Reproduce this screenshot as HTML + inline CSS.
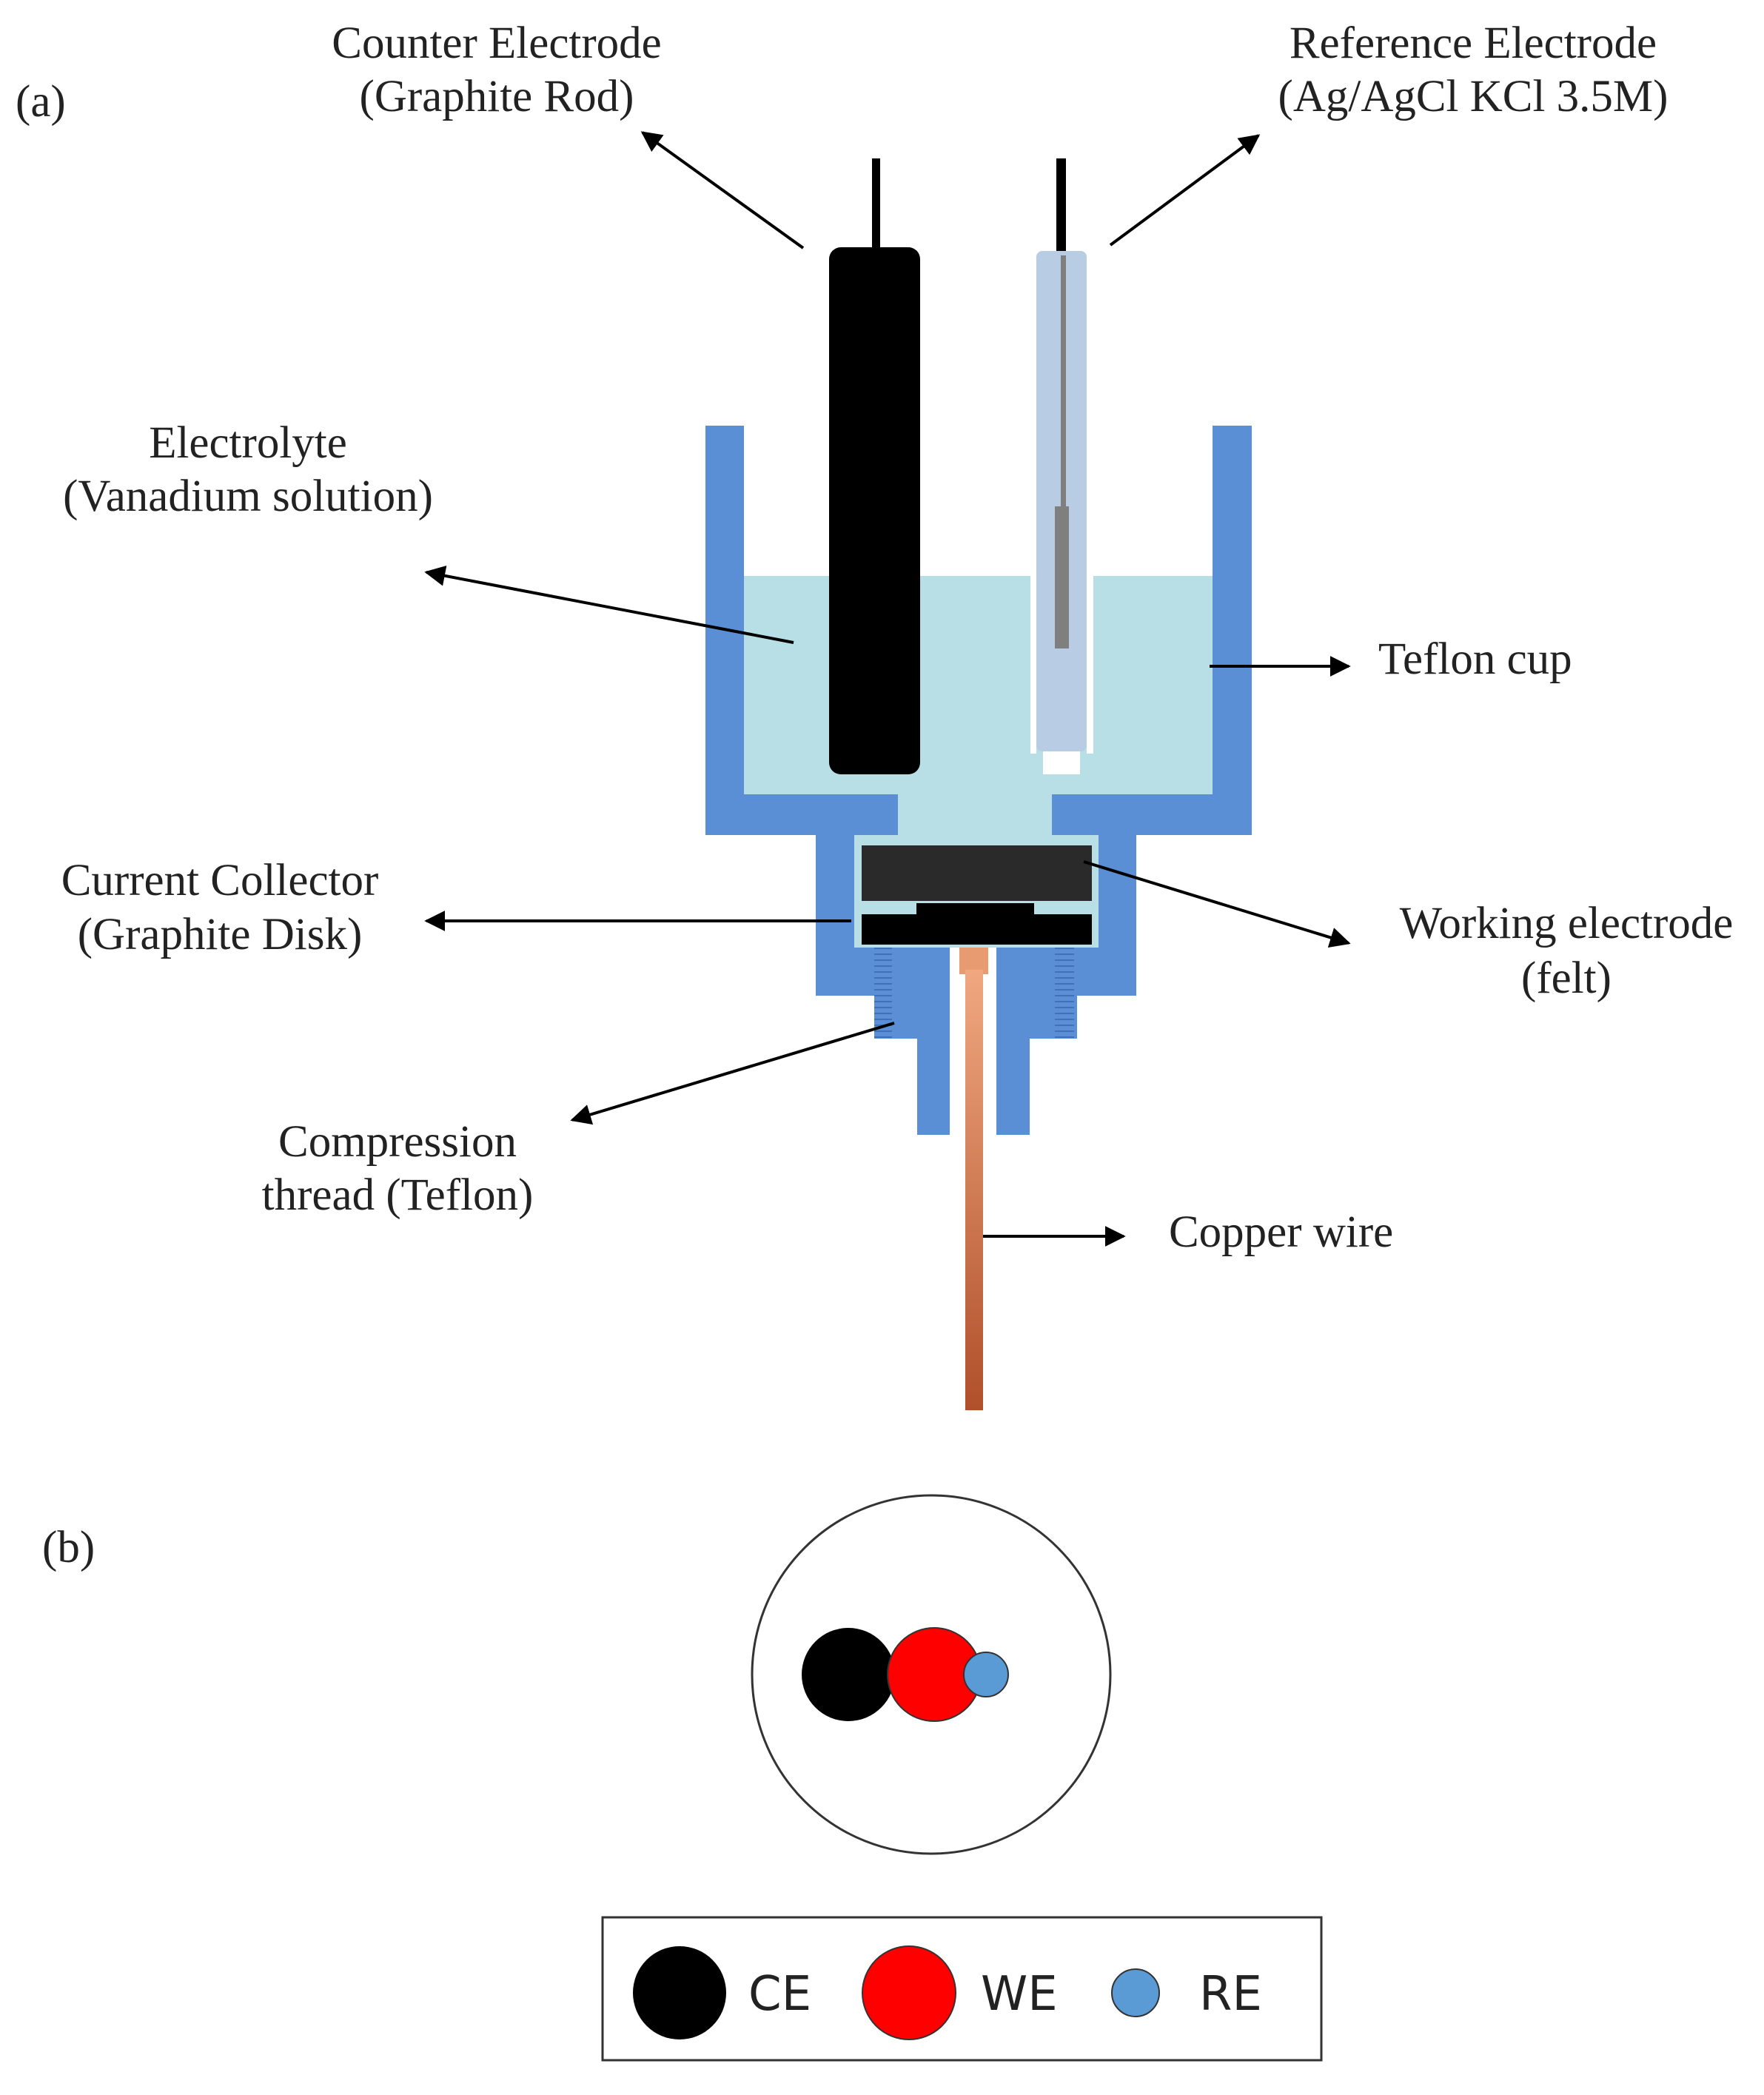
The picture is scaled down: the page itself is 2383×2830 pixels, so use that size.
<!DOCTYPE html>
<html><head><meta charset="utf-8"><style>
html,body{margin:0;padding:0;background:#fff}
svg{display:block}
.t{font-family:"Liberation Serif",serif;font-size:61px;fill:#222}
.s{font-family:"DejaVu Sans","Liberation Sans",sans-serif;font-size:64px;fill:#222}
</style></head><body>
<svg width="2383" height="2830" viewBox="0 0 2383 2830" xmlns="http://www.w3.org/2000/svg">
<defs>
<marker id="a" viewBox="0 0 10 10" refX="9" refY="5" markerWidth="7" markerHeight="7" orient="auto"><path d="M0,0 L10,5 L0,10 z" fill="#000"/></marker>
<linearGradient id="cu" x1="0" y1="0" x2="0" y2="1"><stop offset="0" stop-color="#f0a880"/><stop offset="1" stop-color="#b0502a"/></linearGradient>
<pattern id="th" width="6" height="8" patternUnits="userSpaceOnUse"><rect width="6" height="8" fill="#5a8fd6"/><rect y="0" width="6" height="2" fill="#3f70b8"/></pattern>
</defs>
<!-- electrolyte -->
<rect x="1005" y="778" width="633" height="297" fill="#b8dfe6"/>
<rect x="1213" y="1070" width="208" height="62" fill="#b8dfe6"/>
<rect x="1154" y="1128" width="330" height="152" fill="#b8dfe6"/>
<!-- cup -->
<path fill="#5a8fd6" d="M953,575 H1005 V1073 H1213 V1128 H1154 V1280 H1283 V1533 H1239 V1403 H1181 V1345 H1102 V1128 H953 Z"/>
<path fill="#5a8fd6" d="M1691,575 H1638 V1073 H1421 V1128 H1484 V1280 H1346 V1533 H1391 V1403 H1455 V1345 H1535 V1128 H1691 Z"/>
<rect x="1181" y="1280" width="24" height="123" fill="url(#th)"/>
<rect x="1425" y="1280" width="26" height="123" fill="url(#th)"/>
<!-- felt -->
<rect x="1164" y="1142" width="311" height="75" fill="#2a2a2a"/>
<rect x="1164" y="1235" width="311" height="41" fill="#000"/>
<rect x="1238" y="1220" width="159" height="18" fill="#000"/>
<!-- copper -->
<rect x="1296" y="1280" width="39" height="36" fill="#e89a70"/>
<rect x="1304" y="1310" width="24" height="595" fill="url(#cu)"/>
<!-- counter electrode -->
<rect x="1178" y="214" width="11" height="124" fill="#000"/>
<rect x="1120" y="334" width="123" height="712" rx="16" fill="#000"/>
<!-- reference electrode -->
<rect x="1427" y="214" width="13" height="128" fill="#000"/>
<rect x="1392" y="778" width="8" height="240" fill="#fff"/>
<rect x="1468" y="778" width="9" height="240" fill="#fff"/>
<rect x="1409" y="1010" width="50" height="36" fill="#fff"/>
<rect x="1400" y="339" width="68" height="676" rx="8" fill="#b8cce4"/>
<rect x="1433" y="345" width="7" height="340" fill="#7f7f7f"/>
<rect x="1425" y="684" width="19" height="192" fill="#7f7f7f"/>
<!-- arrows -->
<g stroke="#000" stroke-width="4" fill="none" marker-end="url(#a)">
<line x1="1085" y1="335" x2="868" y2="179"/>
<line x1="1500" y1="331" x2="1700" y2="183"/>
<line x1="1072" y1="868" x2="576" y2="773"/>
<line x1="1634" y1="900" x2="1822" y2="900"/>
<line x1="1150" y1="1244" x2="576" y2="1244"/>
<line x1="1464" y1="1164" x2="1822" y2="1274"/>
<line x1="1208" y1="1382" x2="773" y2="1513"/>
<line x1="1328" y1="1670" x2="1518" y2="1670"/>
</g>
<!-- labels -->
<text class="t" x="21" y="157" font-size="66">(a)</text>
<text class="t" text-anchor="middle" x="671" y="78">Counter Electrode</text>
<text class="t" text-anchor="middle" x="671" y="150">(Graphite Rod)</text>
<text class="t" text-anchor="middle" x="1990" y="78">Reference Electrode</text>
<text class="t" text-anchor="middle" x="1990" y="150">(Ag/AgCl KCl 3.5M)</text>
<text class="t" text-anchor="middle" x="335" y="618">Electrolyte</text>
<text class="t" text-anchor="middle" x="335" y="690">(Vanadium solution)</text>
<text class="t" x="1862" y="910">Teflon cup</text>
<text class="t" text-anchor="middle" x="297" y="1209">Current Collector</text>
<text class="t" text-anchor="middle" x="297" y="1282">(Graphite Disk)</text>
<text class="t" text-anchor="middle" x="2116" y="1267">Working electrode</text>
<text class="t" text-anchor="middle" x="2116" y="1341">(felt)</text>
<text class="t" text-anchor="middle" x="537" y="1562">Compression</text>
<text class="t" text-anchor="middle" x="537" y="1634">thread (Teflon)</text>
<text class="t" x="1579" y="1684">Copper wire</text>
<text class="t" x="57" y="2110" font-size="66">(b)</text>
<!-- part b -->
<circle cx="1258" cy="2262" r="242" fill="#fff" stroke="#333" stroke-width="3"/>
<circle cx="1146" cy="2262" r="63" fill="#000"/>
<circle cx="1262" cy="2262" r="63" fill="#f00" stroke="#333" stroke-width="2"/>
<circle cx="1332" cy="2262" r="30" fill="#5b9bd5" stroke="#333" stroke-width="2"/>
<rect x="814" y="2590" width="971" height="193" fill="#fff" stroke="#333" stroke-width="3"/>
<circle cx="918" cy="2692" r="63" fill="#000"/>
<text class="s" x="1011" y="2715">CE</text>
<circle cx="1228" cy="2692" r="63" fill="#f00" stroke="#333" stroke-width="2"/>
<text class="s" x="1325" y="2715">WE</text>
<circle cx="1534" cy="2692" r="32" fill="#5b9bd5" stroke="#333" stroke-width="2"/>
<text class="s" x="1620" y="2715">RE</text>
</svg>
</body></html>
